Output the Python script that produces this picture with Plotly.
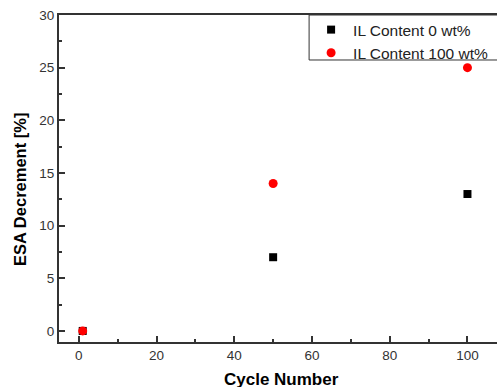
import plotly.graph_objects as go

cycles = [1, 50, 100]
il0 = [0, 7, 13]
il100 = [0, 14, 25]
name0 = "IL Content 0 wt%"
name100 = "IL Content 100 wt%"
x_title = "Cycle Number"
y_title = "ESA Decrement [%]"

fig = go.Figure()
fig.add_trace(go.Scatter(x=cycles, y=il0, mode="markers", name=name0,
                         marker=dict(symbol="square", size=8, color="black")))
fig.add_trace(go.Scatter(x=cycles, y=il100, mode="markers", name=name100,
                         marker=dict(symbol="circle", size=9, color="#ff0000")))

axis_common = dict(showgrid=False, zeroline=False, showline=True, linecolor="#333333",
                   linewidth=2, ticks="inside", tickcolor="#333333", tickwidth=1.5,
                   ticklen=6, automargin=False, ticklabeloverflow="allow",
                   tickfont=dict(family="Liberation Sans, Arial", size=13.5, color="#333333"))

fig.update_layout(
    width=497, height=387,
    margin=dict(l=59, r=0, t=15, b=45, autoexpand=False),
    plot_bgcolor="white", paper_bgcolor="white",
    font=dict(family="Liberation Sans, Arial", color="#333333"),
    xaxis=dict(range=[-5.1, 107.6], tickmode="array", tickvals=[0, 20, 40, 60, 80, 100],
               mirror=True,
               minor=dict(ticks="inside", tickvals=[10, 30, 50, 70, 90], ticklen=3, tickcolor="#333333", tickwidth=1.5),
               **axis_common),
    yaxis=dict(range=[-1.05, 30], tickmode="array", tickvals=[0, 5, 10, 15, 20, 25, 30],
               mirror=False,
               minor=dict(ticks="inside", tickvals=[2.5, 7.5, 12.5, 17.5, 22.5, 27.5], ticklen=3, tickcolor="#333333", tickwidth=1.5),
               **axis_common),
    legend=dict(x=0.571, y=1.006, xanchor="left", yanchor="top", borderwidth=0,
                bgcolor="rgba(255,255,255,0)", font=dict(size=15.5, color="#222222"),
                tracegroupgap=0, itemwidth=34),
    shapes=[dict(type="rect", xref="paper", yref="paper", x0=0.571, x1=1.05, y0=0.8624, y1=1.0,
                 line=dict(color="#333333", width=1), fillcolor="rgba(0,0,0,0)")],
    annotations=[
        dict(text="<b>" + x_title + "</b>", xref="paper", yref="paper", x=0.508, y=-0.116,
             xanchor="center", yanchor="middle", showarrow=False,
             font=dict(size=17, color="black")),
        dict(text="<b>" + y_title + "</b>", xref="paper", yref="paper", x=-0.089, y=0.4648,
             xanchor="center", yanchor="middle", showarrow=False, textangle=-90,
             font=dict(size=16.5, color="black")),
    ],
    showlegend=True,
)

# remove the page's default 8px body margin so the figure fills the window exactly
fig.write_html("out.html", config={"displayModeBar": False},
               post_script="document.body.style.margin='0';document.body.style.overflow='hidden';")
